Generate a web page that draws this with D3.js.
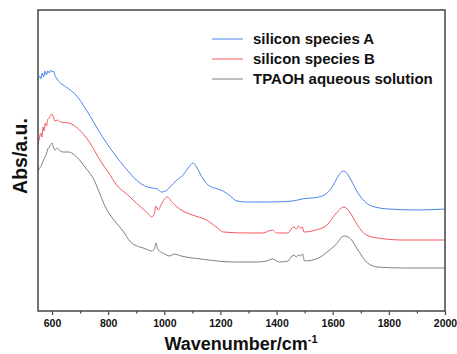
<!DOCTYPE html>
<html><head><meta charset="utf-8">
<script src="https://cdn.jsdelivr.net/npm/d3@7"></script>
<style>body{margin:0;background:#fff}svg{display:block}</style>
</head><body>
<svg id="c" width="457" height="354"></svg>
<script>
const wavenumbers_A = [550,556,560,565,570,575,580,585,590,595,600,605,610,620,635,660,685,720,780,830,880,900,940,975,990,1010,1030,1045,1067,1085,1102,1115,1130,1156,1190,1210,1235,1259,1300,1376,1458,1490,1550,1580,1600,1620,1637,1650,1665,1690,1720,1750,1800,1900,2000];
const absorbance_A = [2.31,2.35,2.32,2.38,2.34,2.40,2.36,2.40,2.38,2.41,2.39,2.40,2.36,2.31,2.27,2.22,2.16,2.02,1.74,1.54,1.37,1.31,1.24,1.22,1.19,1.21,1.27,1.31,1.36,1.43,1.48,1.44,1.36,1.26,1.22,1.20,1.15,1.10,1.09,1.09,1.10,1.12,1.14,1.18,1.25,1.35,1.40,1.38,1.31,1.18,1.08,1.04,1.02,1.01,1.02];

const wavenumbers_B = [550,555,560,564,568,572,576,580,585,590,600,605,610,620,630,660,690,720,750,760,775,800,830,870,900,940,955,965,970,978,990,1010,1030,1060,1100,1150,1190,1210,1300,1350,1385,1400,1440,1455,1462,1470,1478,1485,1492,1497,1540,1580,1610,1640,1660,1690,1720,1760,1850,2000];
const absorbance_B = [1.66,1.73,1.78,1.74,1.84,1.80,1.88,1.85,1.92,1.93,1.97,1.94,1.90,1.91,1.89,1.88,1.83,1.74,1.61,1.56,1.49,1.39,1.26,1.16,1.08,0.98,0.94,0.98,1.05,1.01,1.07,1.14,1.08,1.01,0.96,0.91,0.83,0.79,0.78,0.78,0.81,0.78,0.78,0.83,0.84,0.82,0.85,0.83,0.84,0.79,0.81,0.86,0.97,1.04,0.99,0.85,0.76,0.73,0.71,0.71];

const wavenumbers_T = [550,555,560,565,570,575,580,585,590,600,605,610,618,625,640,660,680,720,750,765,790,820,850,880,935,955,965,970,978,995,1020,1035,1060,1130,1250,1330,1365,1385,1410,1440,1455,1462,1470,1478,1485,1492,1500,1550,1580,1610,1640,1660,1690,1720,1760,1850,2000];
const absorbance_T = [1.39,1.43,1.44,1.48,1.51,1.54,1.57,1.62,1.64,1.68,1.64,1.61,1.63,1.61,1.59,1.59,1.56,1.43,1.31,1.21,1.04,0.91,0.81,0.69,0.62,0.60,0.62,0.68,0.61,0.58,0.55,0.57,0.55,0.52,0.49,0.49,0.50,0.52,0.49,0.50,0.55,0.56,0.54,0.56,0.55,0.57,0.50,0.53,0.59,0.66,0.75,0.73,0.61,0.49,0.44,0.43,0.43];

const seriesNames = ["silicon species A","silicon species B","TPAOH aqueous solution"];
const seriesColors = ["#4a86e8","#f25a5e","#808080"];
const xTickValues = [600,800,1000,1200,1400,1600,1800,2000];
const xMinorTicks = [700,900,1100,1300,1500,1700,1900];
const xTitle = "Wavenumber/cm";
const yTitle = "Abs/a.u.";

const L=38, R=445, T=10, B=311;
const FONT = "Liberation Sans, Arial, sans-serif";
const svg = d3.select("#c");
const x = d3.scaleLinear().domain([550,2000]).range([L,R]);
const y = d3.scaleLinear().domain([0,3.01]).range([B,T]);

const series = [
  wavenumbers_A.map((w,i)=>[w,absorbance_A[i]]),
  wavenumbers_B.map((w,i)=>[w,absorbance_B[i]]),
  wavenumbers_T.map((w,i)=>[w,absorbance_T[i]])
];

svg.append("clipPath").attr("id","clip").append("rect").attr("x",L).attr("y",T).attr("width",R-L).attr("height",B-T);

const line = d3.line().x(d=>x(d[0])).y(d=>y(d[1])).curve(d3.curveMonotoneX);
const g = svg.append("g").attr("clip-path","url(#clip)");
series.forEach((s,i)=>{
  g.append("path").attr("d",line(s)).attr("fill","none").attr("stroke",seriesColors[i]).attr("stroke-width",1);
});

// frame
svg.append("rect").attr("x",L).attr("y",T).attr("width",R-L).attr("height",B-T)
  .attr("fill","none").attr("stroke","#444").attr("stroke-width",1.5);

// x axis
const xAxis = d3.axisBottom(x).tickValues(xTickValues).tickFormat(d3.format("d")).tickSize(4).tickSizeOuter(0).tickPadding(5);
const ax = svg.append("g").attr("transform",`translate(0,${B})`).call(xAxis);
ax.select(".domain").remove();
ax.selectAll(".tick line").attr("stroke","#444").attr("stroke-width",1.2);
ax.selectAll(".tick text").attr("font-family",FONT).attr("font-weight","bold").attr("font-size","10.5px").attr("fill","#111");
const axm = svg.append("g").attr("transform",`translate(0,${B})`).call(d3.axisBottom(x).tickValues(xMinorTicks).tickSize(2.5).tickFormat(""));
axm.select(".domain").remove();
axm.selectAll(".tick line").attr("stroke","#444").attr("stroke-width",1.2);

// titles
const xt = svg.append("text").attr("x",241).attr("y",350).attr("text-anchor","middle")
  .attr("font-family",FONT).attr("font-weight","bold").attr("font-size","18px").attr("fill","#111");
xt.append("tspan").text(xTitle);
xt.append("tspan").attr("dy",-7).attr("font-size","11px").text("-1");

svg.append("text").attr("transform","translate(27,156) rotate(-90)").attr("text-anchor","middle")
  .attr("font-family",FONT).attr("font-weight","bold").attr("font-size","19.5px").attr("fill","#111")
  .text(yTitle);

// legend
const lg = svg.append("g");
seriesNames.forEach((n,i)=>{
  const yy = 39 + i*20;
  lg.append("line").attr("x1",212).attr("x2",243).attr("y1",yy).attr("y2",yy).attr("stroke",seriesColors[i]).attr("stroke-width",1);
  lg.append("text").attr("x",253).attr("y",yy+5).attr("font-family",FONT)
    .attr("font-weight","bold").attr("font-size","15px").attr("fill","#111").text(n);
});
</script>
</body></html>
